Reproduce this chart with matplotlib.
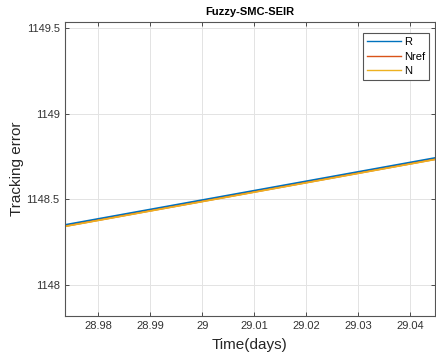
import numpy as np
import matplotlib
matplotlib.use('Agg')
import matplotlib.pyplot as plt

plt.rcParams['font.family'] = ['Liberation Sans', 'DejaVu Sans']

# datos
tiempo = [28.9735, 29.0448]
R = [1148.351, 1148.743]
Nref = [1148.343, 1148.735]
N = [1148.342, 1148.734]

fig = plt.figure(figsize=(4.36, 3.57), dpi=100)
ax = fig.add_axes([0.148, 0.115, 0.85, 0.823])

ax.plot(tiempo, R, color='#0072BD', linewidth=1.3, label='R')
ax.plot(tiempo, Nref, color='#D95319', linewidth=1.2, label='Nref')
ax.plot(tiempo, N, color='#EDB120', linewidth=1.2, label='N')

ax.set_xlim(28.9735, 29.0448)
ax.set_ylim(1147.819, 1149.537)
ax.set_xticks([28.98, 28.99, 29.0, 29.01, 29.02, 29.03, 29.04])
ax.set_xticklabels(['28.98', '28.99', '29', '29.01', '29.02', '29.03', '29.04'])
ax.set_yticks([1148, 1148.5, 1149, 1149.5])
ax.set_yticklabels(['1148', '1148.5', '1149', '1149.5'])

ax.grid(True, color='#e3e3e3', linewidth=0.7)
ax.tick_params(direction='in', top=True, right=True, labelsize=8, colors='#333333',
               length=3, width=0.6)
for s in ax.spines.values():
    s.set_color('#555555')
    s.set_linewidth(0.8)

ax.set_title('Fuzzy-SMC-SEIR', fontsize=8, fontweight='bold', pad=5)
ax.set_xlabel('Time(days)', fontsize=11, color='#262626', labelpad=5)
ax.set_ylabel('Tracking error', fontsize=11, color='#262626', labelpad=2)

leg = ax.legend(loc='upper right', fontsize=8, handlelength=3.1, handletextpad=0.25,
                borderpad=0.35, labelspacing=0.4, fancybox=False, framealpha=1,
                borderaxespad=0, bbox_to_anchor=(0.983, 0.962))
leg.get_frame().set_edgecolor('#555555')
leg.get_frame().set_linewidth(0.8)
for linea in leg.get_lines():
    linea.set_linewidth(1.0)

plt.savefig('out.png', dpi=100)
